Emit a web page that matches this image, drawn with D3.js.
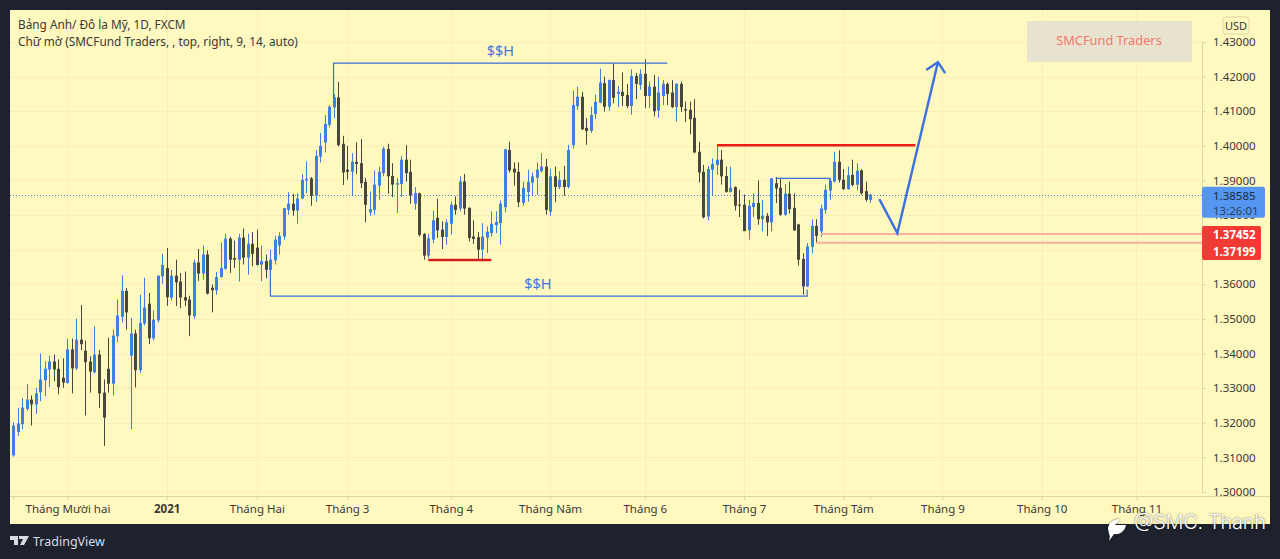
<!DOCTYPE html>
<html>

<head>
    <meta charset="UTF-8">
    <title>Bảng Anh/ Đô la Mỹ, 1D, FXCM</title>
    <style>
        body { margin: 0; background: #1e222d; }
        svg { display: block; }
        text { font-family: 'Noto Sans', sans-serif; }
    </style>
</head>

<body>
    <svg></svg>
    <script src="https://d3js.org/d3.v7.min.js"></script>
    <script>
        const opens = [
            1.3106, 1.3173, 1.3196, 1.3240, 1.3267, 1.3253, 1.3288, 1.3323, 1.3354, 1.3377,
            1.3356, 1.3330, 1.3315, 1.3412, 1.3357, 1.3440, 1.3408, 1.3377, 1.3346, 1.3397,
            1.3287, 1.3356, 1.3313, 1.3450, 1.3506, 1.3581, 1.3394, 1.3458, 1.3352, 1.3487,
            1.3544, 1.3444, 1.3496, 1.3623, 1.3647, 1.3561, 1.3625, 1.3608, 1.3563, 1.3556,
            1.3508, 1.3663, 1.3631, 1.3686, 1.3590, 1.3583, 1.3621, 1.3645, 1.3732, 1.3676,
            1.3671, 1.3735, 1.3677, 1.3717, 1.3706, 1.3657, 1.3667, 1.3642, 1.3669, 1.3712,
            1.3738, 1.3815, 1.3833, 1.3813, 1.3848, 1.3900, 1.3906, 1.3856, 1.3969, 1.4010,
            1.4061, 1.4111, 1.4140, 1.4006, 1.3931, 1.3925, 1.3954, 1.3950, 1.3896, 1.3808,
            1.3815, 1.3885, 1.3921, 1.3991, 1.3913, 1.3888, 1.3890, 1.3960, 1.3925, 1.3833,
            1.3863, 1.3745, 1.3683, 1.3729, 1.3792, 1.3758, 1.3737, 1.3775, 1.3830, 1.3819,
            1.3897, 1.3821, 1.3738, 1.3736, 1.3700, 1.3735, 1.3748, 1.3771, 1.3777, 1.3823,
            1.3988, 1.3934, 1.3925, 1.3835, 1.3867, 1.3894, 1.3908, 1.3927, 1.3940, 1.3810,
            1.3912, 1.3881, 1.3902, 1.3881, 1.4002, 1.4115, 1.4142, 1.4052, 1.4043, 1.4092,
            1.4125, 1.4181, 1.4113, 1.4190, 1.4150, 1.4156, 1.4147, 1.4115, 1.4202, 1.4176,
            1.4208, 1.4144, 1.4171, 1.4102, 1.4144, 1.4179, 1.4154, 1.4112, 1.4179, 1.4106,
            1.4104, 1.4081, 1.3983, 1.3925, 1.3796, 1.3931, 1.3945, 1.3960, 1.3913, 1.3867,
            1.3881, 1.3830, 1.3830, 1.3756, 1.3823, 1.3835, 1.3788, 1.3798, 1.3779, 1.3892,
            1.3879, 1.3801, 1.3862, 1.3821, 1.3773, 1.3673, 1.3594, 1.3708, 1.3769, 1.3753,
            1.3815, 1.3871, 1.3897, 1.3954, 1.3902, 1.3875, 1.3916, 1.3888, 1.3929, 1.3869, 1.3844
        ];
        const closes = [
            1.3192, 1.3198, 1.3244, 1.3267, 1.3253, 1.3285, 1.3325, 1.3356, 1.3377, 1.3354,
            1.3303, 1.3316, 1.3412, 1.3357, 1.3440, 1.3427, 1.3375, 1.3348, 1.3397, 1.3285,
            1.3215, 1.3313, 1.3452, 1.3510, 1.3581, 1.3519, 1.3458, 1.3352, 1.3488, 1.3533,
            1.3444, 1.3498, 1.3625, 1.3656, 1.3563, 1.3625, 1.3606, 1.3562, 1.3553, 1.3510,
            1.3663, 1.3631, 1.3686, 1.3573, 1.3583, 1.3621, 1.3647, 1.3732, 1.3671, 1.3671,
            1.3735, 1.3677, 1.3717, 1.3688, 1.3656, 1.3667, 1.3642, 1.3671, 1.3729, 1.3740,
            1.3820, 1.3833, 1.3813, 1.3848, 1.3902, 1.3905, 1.3856, 1.3971, 1.4000, 1.4063,
            1.4113, 1.4140, 1.4002, 1.3923, 1.3925, 1.3954, 1.3948, 1.3892, 1.3830, 1.3817,
            1.3888, 1.3925, 1.3992, 1.3912, 1.3888, 1.3892, 1.3960, 1.3921, 1.3857, 1.3863,
            1.3743, 1.3683, 1.3733, 1.3785, 1.3756, 1.3737, 1.3779, 1.3830, 1.3815, 1.3897,
            1.3819, 1.3734, 1.3731, 1.3700, 1.3738, 1.3752, 1.3775, 1.3780, 1.3833, 1.3990,
            1.3929, 1.3923, 1.3837, 1.3879, 1.3896, 1.3912, 1.3931, 1.3940, 1.3815, 1.3912,
            1.3881, 1.3902, 1.3881, 1.3988, 1.4118, 1.4142, 1.4048, 1.4043, 1.4089, 1.4127,
            1.4183, 1.4113, 1.4190, 1.4139, 1.4156, 1.4144, 1.4115, 1.4202, 1.4179, 1.4208,
            1.4144, 1.4171, 1.4100, 1.4154, 1.4179, 1.4150, 1.4112, 1.4179, 1.4112, 1.4102,
            1.4077, 1.3981, 1.3923, 1.3794, 1.3933, 1.3948, 1.3960, 1.3912, 1.3867, 1.3879,
            1.3827, 1.3827, 1.3754, 1.3827, 1.3835, 1.3788, 1.3798, 1.3779, 1.3906, 1.3877,
            1.3801, 1.3862, 1.3817, 1.3756, 1.3671, 1.3594, 1.3710, 1.3769, 1.3740, 1.3819,
            1.3873, 1.3899, 1.3954, 1.3902, 1.3875, 1.3915, 1.3887, 1.3928, 1.3863, 1.3844, 1.38585
        ];
        const highs = [
            1.3202, 1.3243, 1.3272, 1.3312, 1.3279, 1.3301, 1.3400, 1.3378, 1.3394, 1.3397,
            1.3383, 1.3386, 1.3443, 1.3443, 1.3501, 1.3540, 1.3437, 1.3392, 1.3479, 1.3410,
            1.3325, 1.3446, 1.3469, 1.3556, 1.3626, 1.3589, 1.3503, 1.3469, 1.3570, 1.3619,
            1.3575, 1.3525, 1.3625, 1.3688, 1.3705, 1.3642, 1.3671, 1.3633, 1.3637, 1.3567,
            1.3671, 1.3702, 1.3712, 1.3698, 1.3599, 1.3636, 1.3721, 1.3746, 1.3737, 1.3726,
            1.3746, 1.3761, 1.3746, 1.3751, 1.3758, 1.3712, 1.3686, 1.3700, 1.3740, 1.3750,
            1.3820, 1.3866, 1.3862, 1.3863, 1.3919, 1.3955, 1.3910, 1.3988, 1.4037, 1.4089,
            1.4118, 1.4150, 1.4185, 1.4029, 1.4000, 1.3979, 1.4010, 1.4020, 1.3907, 1.3868,
            1.3929, 1.3940, 1.3998, 1.4006, 1.3950, 1.3907, 1.3971, 1.4002, 1.3960, 1.3881,
            1.3865, 1.3748, 1.3746, 1.3813, 1.3847, 1.3782, 1.3788, 1.3839, 1.3854, 1.3912,
            1.3919, 1.3822, 1.3785, 1.3751, 1.3777, 1.3767, 1.3811, 1.3811, 1.3842, 1.3992,
            1.4012, 1.3952, 1.3952, 1.3897, 1.3931, 1.3923, 1.3952, 1.3979, 1.3962, 1.3933,
            1.3940, 1.3927, 1.3942, 1.4003, 1.4160, 1.4171, 1.4156, 1.4080, 1.4113, 1.4148,
            1.4223, 1.4200, 1.4192, 1.4237, 1.4173, 1.4212, 1.4179, 1.4221, 1.4210, 1.4221,
            1.4250, 1.4186, 1.4205, 1.4200, 1.4190, 1.4183, 1.4190, 1.4181, 1.4186, 1.4128,
            1.4128, 1.4135, 1.4012, 1.3945, 1.3942, 1.3964, 1.4003, 1.3988, 1.3940, 1.3940,
            1.3883, 1.3873, 1.3859, 1.3844, 1.3863, 1.3900, 1.3844, 1.3806, 1.3907, 1.3910,
            1.3907, 1.3890, 1.3897, 1.3863, 1.3775, 1.3690, 1.3719, 1.3788, 1.3788, 1.3830,
            1.3888, 1.3907, 1.3983, 1.3987, 1.3933, 1.3940, 1.3960, 1.3950, 1.3933, 1.3897, 1.3862
        ];
        const lows = [
            1.3102, 1.3162, 1.3181, 1.3235, 1.3192, 1.3226, 1.3262, 1.3277, 1.3303, 1.3320,
            1.3282, 1.3301, 1.3313, 1.3285, 1.3352, 1.3410, 1.3221, 1.3287, 1.3342, 1.3243,
            1.3133, 1.3287, 1.3279, 1.3433, 1.3490, 1.3469, 1.3181, 1.3302, 1.3344, 1.3481,
            1.3427, 1.3438, 1.3490, 1.3602, 1.3538, 1.3553, 1.3537, 1.3531, 1.3537, 1.3450,
            1.3500, 1.3610, 1.3613, 1.3571, 1.3519, 1.3570, 1.3619, 1.3642, 1.3633, 1.3647,
            1.3608, 1.3657, 1.3628, 1.3652, 1.3654, 1.3609, 1.3617, 1.3640, 1.3657, 1.3686,
            1.3729, 1.3801, 1.3798, 1.3775, 1.3846, 1.3863, 1.3827, 1.3838, 1.3952, 1.3981,
            1.4054, 1.4080, 1.3998, 1.3887, 1.3902, 1.3856, 1.3919, 1.3878, 1.3779, 1.3798,
            1.3801, 1.3844, 1.3912, 1.3862, 1.3852, 1.3806, 1.3852, 1.3897, 1.3833, 1.3815,
            1.3738, 1.3671, 1.3676, 1.3719, 1.3734, 1.3702, 1.3714, 1.3744, 1.3801, 1.3811,
            1.3801, 1.3724, 1.3717, 1.3673, 1.3666, 1.3690, 1.3738, 1.3748, 1.3714, 1.3808,
            1.3923, 1.3885, 1.3823, 1.3827, 1.3839, 1.3858, 1.3859, 1.3923, 1.3801, 1.3798,
            1.3837, 1.3875, 1.3856, 1.3877, 1.3992, 1.4104, 1.4046, 1.4003, 1.4037, 1.4077,
            1.4123, 1.4099, 1.4101, 1.4123, 1.4112, 1.4115, 1.4109, 1.4090, 1.4135, 1.4162,
            1.4109, 1.4109, 1.4085, 1.4081, 1.4118, 1.4118, 1.4109, 1.4070, 1.4098, 1.4069,
            1.4033, 1.3979, 1.3894, 1.3790, 1.3785, 1.3858, 1.3916, 1.3888, 1.3865, 1.3865,
            1.3813, 1.3794, 1.3753, 1.3729, 1.3794, 1.3772, 1.3753, 1.3740, 1.3753, 1.3835,
            1.3798, 1.3798, 1.3804, 1.3754, 1.3654, 1.3570, 1.3592, 1.3690, 1.3719, 1.3737,
            1.3804, 1.3844, 1.3894, 1.3894, 1.3873, 1.3873, 1.3883, 1.3871, 1.3859, 1.3839, 1.3835
        ];

        const priceTicks = [1.30, 1.31, 1.32, 1.33, 1.34, 1.35, 1.36, 1.37, 1.38, 1.39, 1.40, 1.41, 1.42, 1.43];
        const monthBars = [12, 34, 54, 74, 97, 119, 140, 162, 184, 206, 228, 249];
        const monthLabels = ['Tháng Mười hai', '2021', 'Tháng Hai', 'Tháng 3', 'Tháng 4', 'Tháng Năm', 'Tháng 6', 'Tháng 7', 'Tháng Tám', 'Tháng 9', 'Tháng 10', 'Tháng 11'];

        const lastPrice = 1.38585;
        const countdown = '13:26:01';
        const levelPrices = [1.37452, 1.37199];

        // drawings, as [bar, price]
        const topBracket = [[71, 1.4135], [71, 1.4239], [145, 1.4239]];
        const bottomBracket = [[57, 1.3671], [57, 1.3566], [176, 1.3566], [176, 1.3585]];
        const innerBracket = [[169, 1.3906], [181, 1.3906], [181, 1.3880]];
        const redLineLow = [[92, 1.3670], [106, 1.3670]];
        const redLineHigh = [[156, 1.4002], [200, 1.4002]];
        const levelStarts = [179, 178];
        const arrowShaft = [[192, 1.3846], [196, 1.3748], [205, 1.4242]];
        const arrowHead = [[202.4, 1.4219], [205, 1.4242], [206.6, 1.4210]];
        const bracketLabels = [[108, 1.4272, '$$H'], [116.3, 1.3598, '$$H']];

        const width = 1280,
            height = 559;
        const plot = { left: 10, right: 1202, top: 10, bottom: 496, edge: 1270, end: 524 };
        const upColor = '#3d7fe3',
            downColor = '#47473f',
            drawBlue = '#3a6fd8',
            gridColor = '#f6efbb',
            axisColor = '#ddd6a6',
            textColor = '#3a3a36';

        const svg = d3.select('svg')
            .attr('width', width)
            .attr('height', height);

        const x = d3.scaleLinear().domain([0, 190]).range([13.3, 870.3]);
        const y = d3.scaleLinear().domain([1.30, 1.43]).range([492, 42]);
        const line = d3.line().x(d => x(d[0])).y(d => y(d[1]));

        svg.append('rect')
            .attr('x', plot.left)
            .attr('y', plot.top)
            .attr('width', plot.edge - plot.left)
            .attr('height', plot.end - plot.top)
            .attr('fill', '#fff8bf');

        // grid
        svg.append('g').selectAll('line')
            .data(priceTicks)
            .enter().append('line')
            .attr('x1', plot.left)
            .attr('x2', plot.right)
            .attr('y1', d => Math.round(y(d)) + 0.5)
            .attr('y2', d => Math.round(y(d)) + 0.5)
            .attr('stroke', gridColor);

        svg.append('g').selectAll('line')
            .data(monthBars)
            .enter().append('line')
            .attr('x1', d => Math.round(x(d)) + 0.5)
            .attr('x2', d => Math.round(x(d)) + 0.5)
            .attr('y1', plot.top)
            .attr('y2', plot.bottom)
            .attr('stroke', gridColor);

        // last price line
        svg.append('line')
            .attr('x1', plot.left)
            .attr('x2', plot.right)
            .attr('y1', Math.round(y(lastPrice)) + 0.5)
            .attr('y2', Math.round(y(lastPrice)) + 0.5)
            .attr('stroke', '#3f7fd8')
            .attr('stroke-dasharray', '1 2');

        // candles
        const candles = opens.map((o, i) => ({ i: i, o: o, c: closes[i], h: highs[i], l: lows[i] }));
        const candleColor = d => d.c >= d.o ? upColor : downColor;

        const candle = svg.append('g').selectAll('g')
            .data(candles)
            .enter().append('g');

        candle.append('line')
            .attr('x1', d => Math.round(x(d.i)) + 0.5)
            .attr('x2', d => Math.round(x(d.i)) + 0.5)
            .attr('y1', d => y(d.h))
            .attr('y2', d => y(d.l))
            .attr('stroke', candleColor);

        candle.append('rect')
            .attr('x', d => Math.round(x(d.i)) - 1)
            .attr('y', d => y(Math.max(d.o, d.c)))
            .attr('width', 3)
            .attr('height', d => Math.max(1, Math.abs(y(d.o) - y(d.c))))
            .attr('fill', candleColor);

        // drawings
        [topBracket, bottomBracket, innerBracket].forEach(pts => {
            svg.append('path')
                .attr('d', line(pts))
                .attr('fill', 'none')
                .attr('stroke', drawBlue)
                .attr('stroke-width', 1.2);
        });

        [redLineLow, redLineHigh].forEach((pts, i) => {
            svg.append('path')
                .attr('d', line(pts))
                .attr('fill', 'none')
                .attr('stroke', i == 0 ? '#d0201c' : '#ee1c14')
                .attr('stroke-width', 2.5);
        });

        svg.append('g').selectAll('line')
            .data(levelPrices)
            .enter().append('line')
            .attr('x1', (d, i) => x(levelStarts[i]))
            .attr('x2', plot.right)
            .attr('y1', d => y(d))
            .attr('y2', d => y(d))
            .attr('stroke', '#f5b29c')
            .attr('stroke-width', 2);

        [arrowShaft, arrowHead].forEach(pts => {
            svg.append('path')
                .attr('d', line(pts))
                .attr('fill', 'none')
                .attr('stroke', '#3a70e0')
                .attr('stroke-width', 2.4);
        });

        svg.append('g').selectAll('text')
            .data(bracketLabels)
            .enter().append('text')
            .attr('x', d => x(d[0]))
            .attr('y', d => y(d[1]))
            .attr('text-anchor', 'middle')
            .attr('dominant-baseline', 'middle')
            .attr('font-size', 14.5)
            .attr('fill', '#3a78dc')
            .text(d => d[2]);

        // watermark box
        svg.append('rect')
            .attr('x', 1027)
            .attr('y', 21)
            .attr('width', 165)
            .attr('height', 41)
            .attr('fill', '#e8e3cf');

        svg.append('text')
            .attr('x', 1109)
            .attr('y', 45)
            .attr('text-anchor', 'middle')
            .attr('font-size', 12.8)
            .attr('fill', '#f2786c')
            .text('SMCFund Traders');

        // axes
        const yAxis = svg.append('g')
            .attr('transform', `translate(${plot.right},0)`)
            .call(d3.axisRight(y).tickValues(priceTicks).tickFormat(d3.format('.5f')).tickSize(4).tickPadding(7));

        const xAxis = svg.append('g')
            .attr('transform', `translate(0,${plot.bottom})`)
            .call(d3.axisBottom(x).tickValues(monthBars).tickFormat((d, i) => monthLabels[i]).tickSize(4).tickPadding(5));

        [yAxis, xAxis].forEach(axis => {
            axis.select('.domain').attr('stroke', axisColor);
            axis.selectAll('.tick line').attr('stroke', axisColor);
            axis.selectAll('text')
                .attr('font-family', "'Noto Sans', sans-serif")
                .attr('font-size', 11.5)
                .attr('fill', textColor);
        });

        svg.append('line')
            .attr('x1', plot.left)
            .attr('x2', plot.edge)
            .attr('y1', plot.bottom + 0.5)
            .attr('y2', plot.bottom + 0.5)
            .attr('stroke', axisColor);

        xAxis.selectAll('text')
            .filter((d, i) => monthLabels[i] == '2021')
            .attr('font-weight', 'bold');

        // legend
        svg.append('text')
            .attr('x', 18)
            .attr('y', 29)
            .attr('font-size', 11.8)
            .attr('fill', textColor)
            .text('Bảng Anh/ Đô la Mỹ, 1D, FXCM');

        svg.append('text')
            .attr('x', 18)
            .attr('y', 46)
            .attr('font-size', 11.8)
            .attr('fill', textColor)
            .text('Chữ mờ (SMCFund Traders, , top, right, 9, 14, auto)');

        // currency badge
        svg.append('rect')
            .attr('x', 1223)
            .attr('y', 17)
            .attr('width', 26)
            .attr('height', 17)
            .attr('rx', 3)
            .attr('fill', '#fff8bf')
            .attr('stroke', axisColor);

        svg.append('text')
            .attr('x', 1236)
            .attr('y', 30)
            .attr('text-anchor', 'middle')
            .attr('font-size', 11)
            .attr('fill', textColor)
            .text('USD');

        // price labels
        svg.append('rect')
            .attr('x', plot.right)
            .attr('y', y(lastPrice) - 8)
            .attr('width', 63)
            .attr('height', 31)
            .attr('rx', 2)
            .attr('fill', '#5596f2');

        svg.append('text')
            .attr('x', 1213)
            .attr('y', y(lastPrice) + 5)
            .attr('font-size', 11.5)
            .attr('fill', '#1e2a40')
            .text(d3.format('.5f')(lastPrice));

        svg.append('text')
            .attr('x', 1213)
            .attr('y', y(lastPrice) + 20)
            .attr('font-size', 11.5)
            .attr('fill', '#2a3f60')
            .text(countdown);

        svg.append('rect')
            .attr('x', plot.right)
            .attr('y', 226)
            .attr('width', 59)
            .attr('height', 34)
            .attr('rx', 2)
            .attr('fill', '#f23a35');

        svg.append('g').selectAll('text')
            .data(levelPrices)
            .enter().append('text')
            .attr('x', 1213)
            .attr('y', (d, i) => 239 + i * 17)
            .attr('font-size', 11.5)
            .attr('font-weight', 'bold')
            .attr('fill', '#ffffff')
            .text(d => d3.format('.5f')(d));

        // footer
        svg.append('path')
            .attr('d', 'M10 536h8v9h-4v-5h-4z M19 536h10l-5 9h-4l3-6h-4z')
            .attr('fill', '#d8dbe2');

        svg.append('text')
            .attr('x', 33)
            .attr('y', 546)
            .attr('font-size', 12.5)
            .attr('fill', '#d8dbe2')
            .text('TradingView');

        svg.append('path')
            .attr('d', 'M1108 529c0-6 6-10 12-10l-5 6h11c-1 6-6 10-12 9l-5 7c1-3 1-6 0-7l-1-5z')
            .attr('fill', '#ffffff')
            .style('filter', 'drop-shadow(0 0 1px rgba(0,0,0,.6))');

        svg.append('text')
            .attr('x', 1134)
            .attr('y', 529)
            .style('font-family', 'Inter, sans-serif')
            .style('text-shadow', '0 0 2px rgba(0,0,0,.7)')
            .attr('font-size', 20)
            .attr('font-weight', 300)
            .attr('textLength', 132)
            .attr('fill', '#ffffff')
            .text('@SMC. Thanh');
    </script>
</body>

</html>
